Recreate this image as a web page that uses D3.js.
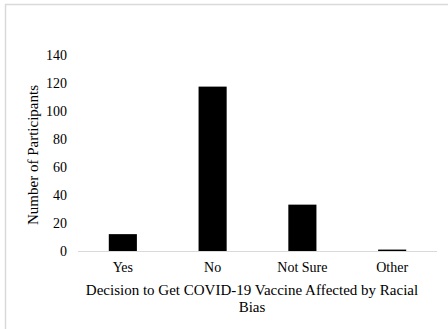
<!DOCTYPE html>
<html><head><meta charset="utf-8">
<script src="https://cdn.jsdelivr.net/npm/d3@7"></script>
<style>body{margin:0;background:#fff}svg{display:block}svg text{font-family:'Liberation Serif','Times New Roman',serif !important;fill:#000}</style>
</head><body>
<script>
const categories = ["Yes", "No", "Not Sure", "Other"];
const values = [12, 117, 33, 1];
const yTicks = [0, 20, 40, 60, 80, 100, 120, 140];
const xTitleLines = ["Decision to Get COVID-19 Vaccine Affected by Racial", "Bias"];
const yTitle = "Number of Participants";

const W = 448, H = 329;
const svg = d3.select("body").append("svg").attr("width", W).attr("height", H);
const font = "'Liberation Serif', 'Times New Roman', serif";

svg.append("rect").attr("x", 5.5).attr("y", 4.5).attr("width", W + 10).attr("height", H + 10)
  .attr("fill", "none").attr("stroke", "#d9d9d9").attr("stroke-width", 1.5);

const plotL = 78, plotR = 437, plotT = 54.3, plotB = 251;
const x = d3.scaleBand().domain(categories).range([plotL, plotR]).paddingInner(0.687).paddingOuter(0.343);
const y = d3.scaleLinear().domain([0, 140]).range([plotB, plotT]);

svg.selectAll("rect.bar").data(values).enter().append("rect").attr("class", "bar")
  .attr("x", (d, i) => x(categories[i])).attr("width", x.bandwidth())
  .attr("y", d => y(d)).attr("height", d => y(0) - y(d)).attr("fill", "#000");

svg.append("line").attr("x1", plotL).attr("x2", plotR).attr("y1", plotB + 0.5).attr("y2", plotB + 0.5)
  .attr("stroke", "#d9d9d9").attr("stroke-width", 1);

const yAxis = d3.axisLeft(y).tickValues(yTicks).tickSize(0).tickPadding(0);
const gy = svg.append("g").attr("transform", `translate(67,0)`).call(yAxis);
gy.select(".domain").remove();
gy.style("font-family", font).style("font-size", "14px");
gy.selectAll("text").style("font-size", "14px").attr("dy", "0.35em");

const xAxis = d3.axisBottom(x).tickSize(0).tickPadding(0);
const gx = svg.append("g").attr("transform", `translate(0,${plotB})`).call(xAxis);
gx.select(".domain").remove();
gx.style("font-family", font).style("font-size", "14px");
gx.selectAll("text").style("font-size", "14px").attr("dy", null).attr("y", 21);

svg.append("text").attr("x", 252).attr("y", 295).attr("text-anchor", "middle")
  .style("font-size", "15px")
  .selectAll("tspan").data(xTitleLines).enter().append("tspan")
  .attr("x", 252).attr("dy", (d, i) => i ? 17 : 0).text(d => d);

svg.append("text").attr("transform", "translate(38,155) rotate(-90)").attr("text-anchor", "middle")
  .style("font-size", "15px").text(yTitle);
</script>
</body></html>
